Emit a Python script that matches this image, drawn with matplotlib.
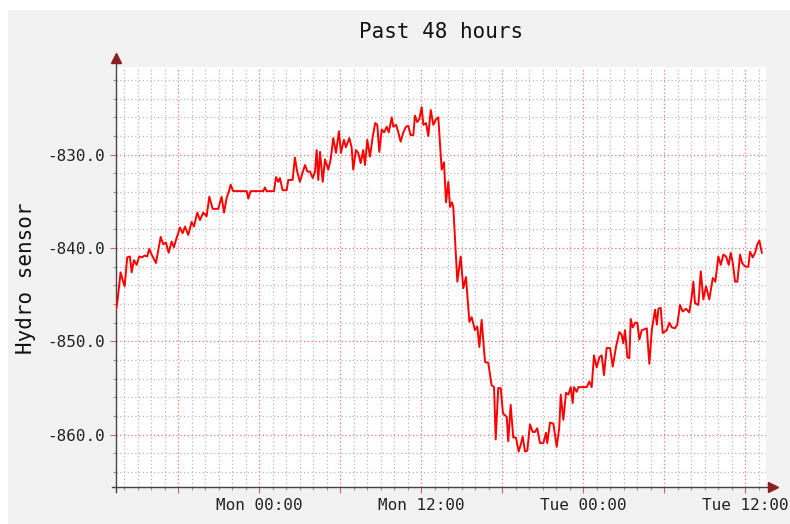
import matplotlib
matplotlib.use('Agg')
import matplotlib.pyplot as plt
from matplotlib.ticker import MultipleLocator, FuncFormatter
from matplotlib.patches import Rectangle

# hours relative to Mon 00:00, sensor reading
hours = [-10.61, -10.52, -10.27, -10.12, -9.97, -9.78, -9.58, -9.45, -9.28, -9.08,
         -8.89, -8.69, -8.49, -8.30, -8.15, -7.97, -7.65, -7.30, -7.11, -6.91,
         -6.71, -6.49, -6.32, -6.12, -5.87, -5.67, -5.50, -5.26, -5.01, -4.84,
         -4.59, -4.39, -4.15, -3.90, -3.70, -3.45, -3.04, -2.79, -2.61, -2.41,
         -2.22, -2.12, -1.93, -0.93, -0.81, -0.64, 0.30, 0.42, 0.55, 1.09,
         1.24, 1.41, 1.53, 1.73, 2.03, 2.15, 2.47, 2.64, 2.81, 3.01,
         3.21, 3.39, 3.56, 3.76, 3.96, 4.13, 4.25, 4.37, 4.50, 4.70,
         4.87, 5.11, 5.29, 5.48, 5.68, 5.90, 6.05, 6.27, 6.42, 6.67,
         6.84, 6.96, 7.16, 7.33, 7.51, 7.70, 7.83, 8.00, 8.20, 8.40,
         8.59, 8.74, 8.89, 9.07, 9.24, 9.44, 9.59, 9.81, 9.93, 10.13,
         10.30, 10.47, 10.67, 10.87, 11.04, 11.21, 11.41, 11.53, 11.70, 11.85,
         12.03, 12.15, 12.35, 12.52, 12.70, 12.89, 13.09, 13.26, 13.51, 13.68,
         13.83, 14.00, 14.13, 14.27, 14.37, 14.67, 14.92, 15.11, 15.31, 15.56,
         15.73, 15.98, 16.15, 16.30, 16.47, 16.72, 16.96, 17.21, 17.39, 17.51,
         17.70, 17.88, 18.05, 18.33, 18.44, 18.62, 18.81, 19.01, 19.21, 19.36,
         19.51, 19.68, 19.85, 20.05, 20.25, 20.42, 20.59, 20.79, 21.04, 21.24,
         21.33, 21.53, 21.78, 22.03, 22.22, 22.33, 22.52, 22.72, 22.89, 23.07,
         23.21, 23.31, 23.51, 23.63, 24.25, 24.44, 24.62, 24.79, 24.99, 25.19,
         25.36, 25.53, 25.73, 25.98, 26.18, 26.42, 26.67, 26.84, 26.96, 27.09,
         27.26, 27.41, 27.51, 27.66, 27.83, 28.00, 28.15, 28.33, 28.70, 28.89,
         29.07, 29.31, 29.45, 29.56, 29.73, 29.88, 30.18, 30.37, 30.55, 30.79,
         30.96, 31.16, 31.36, 31.61, 31.85, 32.03, 32.15, 32.27, 32.52, 32.70,
         32.89, 33.09, 33.33, 33.59, 33.78, 34.00, 34.18, 34.37, 34.57, 34.77,
         34.92, 35.07, 35.24, 35.41, 35.61, 35.76, 36.00, 36.22, 36.35, 36.55,
         36.72, 36.89, 37.04, 37.22]
values = [-846.6, -845.9, -842.6, -843.4, -844.1, -841.0, -840.9, -842.6, -841.3, -841.8,
          -840.9, -841.0, -840.8, -840.9, -840.1, -840.7, -841.6, -838.8, -839.6, -839.4,
          -840.5, -839.3, -839.9, -838.9, -837.8, -838.4, -837.7, -838.6, -837.2, -837.7,
          -836.2, -837.0, -836.2, -836.6, -834.5, -835.8, -835.8, -834.5, -836.2, -834.6,
          -833.8, -833.2, -833.9, -833.9, -834.7, -833.9, -833.9, -833.5, -833.9, -833.9,
          -832.4, -832.9, -832.5, -833.8, -833.8, -832.7, -832.7, -830.3, -831.8, -832.9,
          -831.9, -831.1, -831.8, -831.8, -832.5, -831.8, -829.5, -832.7, -829.7, -832.9,
          -830.5, -831.6, -830.5, -828.2, -829.8, -827.5, -829.8, -828.4, -829.2, -828.2,
          -829.2, -831.6, -829.5, -829.8, -830.9, -829.5, -831.1, -828.4, -830.2, -828.1,
          -826.6, -826.8, -829.7, -827.3, -827.6, -827.0, -827.6, -826.0, -827.0, -826.8,
          -827.6, -828.6, -827.6, -827.0, -826.9, -827.9, -827.9, -825.8, -826.5, -826.2,
          -824.9, -826.8, -826.6, -828.0, -825.2, -826.8, -826.2, -826.0, -831.6, -830.8,
          -835.1, -832.9, -835.6, -835.1, -835.6, -843.6, -840.9, -844.3, -843.1, -847.9,
          -847.4, -848.8, -848.4, -850.6, -847.7, -852.2, -852.3, -854.7, -854.9, -860.5,
          -855.0, -855.0, -857.7, -858.1, -860.7, -856.8, -860.3, -860.3, -861.8, -861.1,
          -860.2, -861.8, -861.7, -858.9, -859.7, -859.7, -859.3, -860.9, -860.9, -859.8,
          -860.9, -858.7, -858.8, -861.3, -859.2, -855.7, -858.4, -855.5, -855.7, -854.9,
          -856.6, -854.9, -855.4, -854.9, -854.9, -854.3, -854.9, -851.5, -852.8, -851.7,
          -851.5, -853.6, -850.7, -850.7, -852.7, -850.6, -849.0, -849.3, -850.2, -848.8,
          -851.7, -851.8, -847.6, -848.5, -848.0, -848.0, -849.8, -848.8, -848.6, -852.4,
          -848.8, -846.6, -848.2, -846.5, -846.4, -849.1, -848.8, -848.0, -848.5, -848.6,
          -848.2, -846.1, -846.8, -846.5, -846.9, -845.2, -843.6, -845.9, -846.1, -842.5,
          -845.5, -844.1, -845.5, -843.2, -843.6, -840.9, -841.8, -840.7, -840.9, -841.8,
          -840.5, -841.6, -843.6, -843.6, -840.7, -841.6, -842.0, -842.0, -840.4, -841.0,
          -840.5, -839.6, -839.2, -840.5]

day_labels = {0: 'Mon 00:00', 12: 'Mon 12:00', 24: 'Tue 00:00', 36: 'Tue 12:00'}
title = 'Past 48 hours'
ylabel = 'Hydro sensor'

mono = 'DejaVu Sans Mono'
fig = plt.figure(figsize=(7.9, 5.24), dpi=100)
fig.patch.set_facecolor('white')
fig.patches.append(Rectangle((8 / 790, 0), 1, 1 - 10 / 524, transform=fig.transFigure,
                             facecolor='#f2f2f2', edgecolor='none', zorder=-10))

ax = fig.add_axes([116 / 790, 1 - 487 / 524, 650 / 790, 420 / 524])
ax.set_facecolor('white')
ax.set_xlim(-10.61, 37.53)
ax.set_ylim(-865.6, -820.6)

ax.xaxis.set_major_locator(MultipleLocator(6))
ax.xaxis.set_minor_locator(MultipleLocator(1))
ax.yaxis.set_major_locator(MultipleLocator(10))
ax.yaxis.set_minor_locator(MultipleLocator(2))
ax.xaxis.set_major_formatter(FuncFormatter(lambda v, p: day_labels.get(int(round(v)), '')))
ax.yaxis.set_major_formatter(FuncFormatter(lambda v, p: '%.1f' % v))

ax.grid(which='minor', color='#b8b8b8', linestyle=(0, (1, 2)), linewidth=0.9)
ax.grid(which='major', color='#ee7070', linestyle=(0, (1, 2)), linewidth=0.9)
ax.set_axisbelow(True)

ax.tick_params(which='major', direction='out', length=4, width=0.8, color='#e06060',
               labelsize=11.5, pad=4)
ax.tick_params(which='minor', direction='out', length=2.5, width=0.8, color='#999999')
for lab in ax.get_xticklabels() + ax.get_yticklabels():
    lab.set_fontfamily(mono)
    lab.set_color('#222222')

for s in ax.spines.values():
    s.set_visible(False)

ax.plot(hours, values, color='#ff0000', linewidth=1.4, zorder=3)

# axis lines with arrow heads
ax.plot([0, 0], [-0.012, 1.015], transform=ax.transAxes, color='#444444', lw=1, clip_on=False)
ax.plot([-0.006, 1.005], [0, 0], transform=ax.transAxes, color='#444444', lw=1, clip_on=False)
ax.plot([0], [1.022], marker='^', markersize=7, color='#8b2020', transform=ax.transAxes,
        clip_on=False)
ax.plot([1.01], [0], marker='>', markersize=7, color='#8b2020', transform=ax.transAxes,
        clip_on=False)

fig.text(441 / 790, 1 - 32 / 524, title, ha='center', va='center', fontsize=15,
         family=mono, color='#111111')
fig.text(26 / 790, 1 - 278 / 524, ylabel, ha='center', va='center', rotation=90,
         fontsize=15, family=mono, color='#111111')

fig.savefig('out.png', dpi=100, facecolor=fig.get_facecolor())
